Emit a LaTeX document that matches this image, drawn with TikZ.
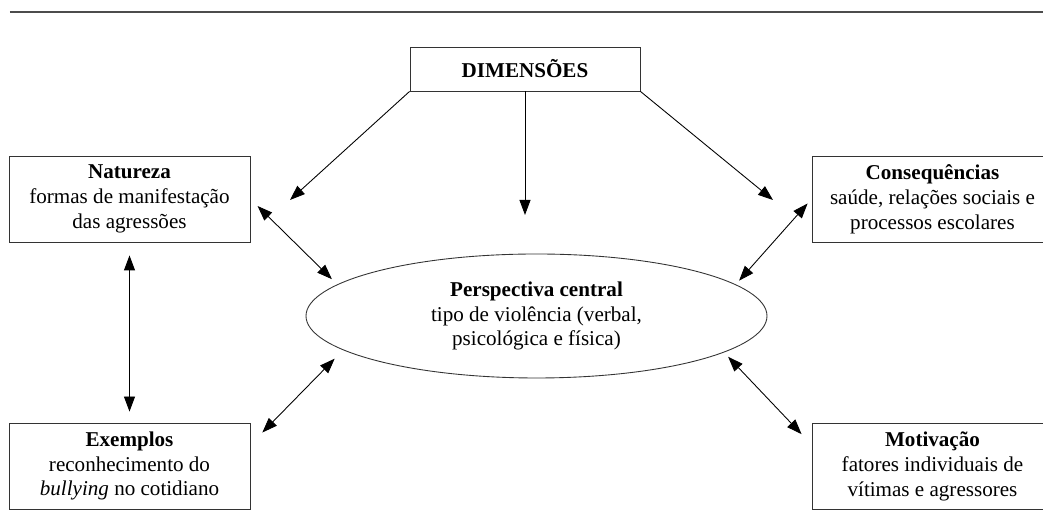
\documentclass[tikz,border=0pt]{standalone}
\usepackage{fontspec}
\setmainfont{Liberation Serif}
\usetikzlibrary{arrows.meta,positioning,shapes.geometric}

\begin{document}
\begin{tikzpicture}[
    caixa/.style={draw=black!80, line width=0.5pt, minimum width=4.82cm, minimum height=1.72cm,
        align=center, inner sep=2pt, font=\fontsize{12}{14.2}\selectfont},
    seta/.style={line width=0.5pt, -{Triangle[length=0.3cm,width=0.22cm]}},
    dupla/.style={line width=0.5pt, {Triangle[length=0.3cm,width=0.22cm]}-{Triangle[length=0.3cm,width=0.22cm]}}]
    \useasboundingbox (0,0) rectangle (20.86,10.6);

    % Top rule
    \draw[black!70, line width=0.8pt] (0.2,10.36) -- (20.86,10.36);

    % Dimensions
    \node[caixa, minimum width=4.6cm, minimum height=0.88cm] (dim) at (10.5,9.22) {\textbf{DIMENSÕES}};

    % Central perspective
    \node[draw=black!80, ellipse, line width=0.5pt, minimum width=9.22cm, minimum height=2.48cm,
        inner sep=0pt, align=center, font=\fontsize{12}{14.2}\selectfont] (persp) at (10.73,4.28)
        {\textbf{Perspectiva central}\\tipo de violência (verbal,\\psicológica e física)};

    % Boxes
    \node[caixa] (nat) at (2.59,6.62) {\textbf{Natureza}\\formas de manifestação\\das agressões};
    \node[caixa] (cons) at (18.65,6.62) {\textbf{Consequências}\\saúde, relações sociais e\\processos escolares};
    \node[caixa] (exem) at (2.59,1.28) {\textbf{Exemplos}\\reconhecimento do\\\textit{bullying} no cotidiano};
    \node[caixa] (motiv) at (18.65,1.28) {\textbf{Motivação}\\fatores individuais de\\vítimas e agressores};

    % Arrows from the top box
    \coordinate (pontaE) at (5.8,6.6);
    \coordinate (pontaC) at (10.5,6.3);
    \coordinate (pontaD) at (15.46,6.6);
    \draw[seta] (dim.south west) -- (pontaE);
    \draw[seta] (dim.south) -- (pontaC);
    \draw[seta] (dim.south east) -- (pontaD);

    % Double arrows
    \draw[dupla, shorten <=0.2cm, shorten >=0.15cm] (nat.east) -- (persp.171);
    \draw[dupla, shorten <=0.12cm, shorten >=0.1cm] (cons.west) -- (persp.9.5);
    \draw[dupla, shorten <=0.26cm, shorten >=0.22cm] (nat.south) -- (exem.north);
    \draw[dupla, shorten <=0.34cm, shorten >=0.24cm] (exem.10) -- (persp.190);
    \draw[dupla, shorten <=0.29cm, shorten >=0.12cm] (motiv.170) -- (persp.-11);
\end{tikzpicture}
\end{document}
